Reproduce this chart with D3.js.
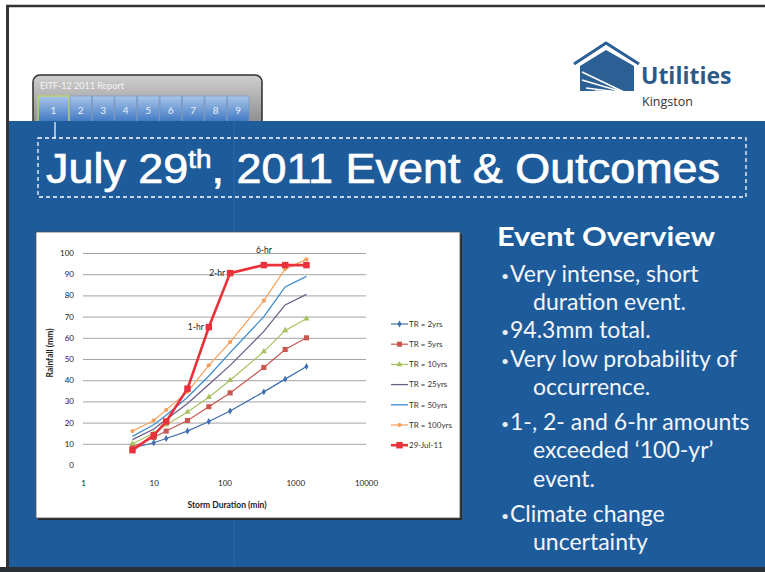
<!DOCTYPE html>
<html>
<head>
<meta charset="utf-8">
<script src="https://cdn.jsdelivr.net/npm/d3@7"></script>
<style>
  body { margin: 0; background: #fff; }
  svg { display: block; }
</style>
</head>
<body>
<div id="slide"></div>
<script>
// storm durations (min) and rainfall depths (mm)
var durations = [5, 10, 15, 30, 60, 120, 360, 720, 1440];
var tr2   = [8, 10.5, 12.5, 16, 20.5, 25.5, 34.5, 40.5, 46.5];
var tr5   = [8.5, 13, 16, 21, 27.5, 34, 46, 54.5, 60];
var tr10  = [10, 15, 19, 25, 32, 40, 53.5, 63.5, 69];
var tr25  = [12, 17, 21.5, 29, 38, 47, 63, 75.5, 80.5];
var tr50  = [13.5, 19, 23.5, 32, 42, 53, 70, 84, 89];
var tr100 = [16, 21, 26, 34.5, 47, 58, 77.5, 92.5, 97];
var jul29 = [7, 14, 20.5, 36, 65, 90.5, 94.3, 94.3, 94.3];

var seriesNames = ["TR = 2yrs", "TR = 5yrs", "TR = 10yrs", "TR = 25yrs", "TR = 50yrs", "TR = 100yrs", "29-Jul-11"];
var yTicks = [0, 10, 20, 30, 40, 50, 60, 70, 80, 90, 100];
var xTicks = [1, 10, 100, 1000, 10000];
var annotations = [["1-hr", 60], ["2-hr", 120], ["6-hr", 360]];
var bullets = [
  ["Very intense, short", "duration event."],
  ["94.3mm total."],
  ["Very low probability of", "occurrence."],
  ["1-, 2- and 6-hr amounts", "exceeded \u2018100-yr\u2019", "event."],
  ["Climate change", "uncertainty"]
];

var W = 765, H = 572;
var blue = "#1e5b9b";

var svg = d3.select("#slide").append("svg")
  .attr("width", W)
  .attr("height", H);

var defs = svg.append("defs");
var g1 = defs.append("linearGradient").attr("id", "navbg").attr("x1", 0).attr("y1", 0).attr("x2", 0).attr("y2", 1);
g1.append("stop").attr("offset", "0%").attr("stop-color", "#cfcfcf");
g1.append("stop").attr("offset", "100%").attr("stop-color", "#7d7d7d");
var g2 = defs.append("linearGradient").attr("id", "btnbg").attr("x1", 0).attr("y1", 0).attr("x2", 0).attr("y2", 1);
g2.append("stop").attr("offset", "0%").attr("stop-color", "#a9c6ea");
g2.append("stop").attr("offset", "100%").attr("stop-color", "#3f78c2");

// page + scan border
svg.append("rect").attr("width", W).attr("height", H).attr("fill", "#fff");
svg.append("line").attr("x1", 6).attr("x2", W).attr("y1", 6).attr("y2", 6)
  .attr("stroke", "#333").attr("stroke-width", 2.5);
svg.append("line").attr("x1", 7.5).attr("x2", 7.5).attr("y1", 5).attr("y2", H)
  .attr("stroke", "#333").attr("stroke-width", 3);

// navigation box
svg.append("rect").attr("x", 33).attr("y", 75).attr("width", 229).attr("height", 60)
  .attr("rx", 7).attr("fill", "url(#navbg)").attr("stroke", "#2e2e2e").attr("stroke-width", 1.5);
svg.append("text").attr("x", 40).attr("y", 89)
  .attr("font-family", "Lato, sans-serif").attr("font-size", 9).attr("fill", "#f4f4f4")
  .text("EITF-12 2011 Report");
var btnX = [38, 70, 92.5, 115, 137.5, 160, 182.5, 205, 227.5];
btnX.forEach(function (bx, i) {
  var bw = i === 0 ? 31 : 21.5;
  svg.append("rect").attr("x", bx).attr("y", 96).attr("width", bw).attr("height", 26)
    .attr("fill", "url(#btnbg)")
    .attr("stroke", i === 0 ? "#b9d46b" : "#6d95c9").attr("stroke-width", i === 0 ? 1.5 : 0.6);
  svg.append("text").attr("x", bx + bw / 2).attr("y", 114)
    .attr("text-anchor", "middle").attr("font-family", "Lato, sans-serif")
    .attr("font-size", 10).attr("fill", "#e8f0fa").text(i + 1);
});

// logo
var logo = svg.append("g");
logo.append("path").attr("d", "M574,64 L606,43 L639,64")
  .attr("fill", "none").attr("stroke", "#2c5f93").attr("stroke-width", 3);
logo.append("path").attr("d", "M580,66 L606,50 L634,66 L634,91 L580,91 Z").attr("fill", "#2c5f93");
[[582, 72], [582, 80], [586, 88], [595, 91], [606, 91], [614, 91]].forEach(function (p) {
  logo.append("line").attr("x1", 626).attr("y1", 93).attr("x2", p[0]).attr("y2", p[1])
    .attr("stroke", "#fff").attr("stroke-width", 1.6);
});
logo.append("text").attr("x", 641).attr("y", 84)
  .attr("font-family", "'Open Sans', sans-serif").attr("font-weight", "bold")
  .attr("font-size", 23).attr("fill", "#2d5b89").text("Utilities");
logo.append("text").attr("x", 642).attr("y", 106)
  .attr("font-family", "'Open Sans', sans-serif")
  .attr("font-size", 12.5).attr("fill", "#333").text("Kingston");

// blue panel
svg.append("rect").attr("x", 9).attr("y", 121).attr("width", W - 9).attr("height", 447).attr("fill", blue);
svg.append("line").attr("x1", 234).attr("x2", 234).attr("y1", 121).attr("y2", 567)
  .attr("stroke", "#3a70ab").attr("stroke-width", 1).attr("opacity", 0.6);
svg.append("rect").attr("x", 0).attr("y", 567).attr("width", W).attr("height", 5).attr("fill", "#2b2f36");
svg.append("line").attr("x1", 55).attr("x2", 55).attr("y1", 122).attr("y2", 138)
  .attr("stroke", "#fff").attr("stroke-width", 1.2);

// title
svg.append("rect").attr("x", 38).attr("y", 138).attr("width", 708).attr("height", 59)
  .attr("fill", "none").attr("stroke", "#fff").attr("stroke-width", 1.3).attr("stroke-dasharray", "4,3");
var title = svg.append("text").attr("x", 46).attr("y", 183)
  .attr("font-family", "'Liberation Sans', Arial, sans-serif")
  .attr("font-size", 42).attr("fill", "#fff")
  .attr("stroke", "#fff").attr("stroke-width", 0.7)
  .attr("textLength", 674).attr("lengthAdjust", "spacingAndGlyphs");
title.append("tspan").text("July 29");
title.append("tspan").attr("font-size", 26).attr("dy", -15).text("th");
title.append("tspan").attr("dy", 15).text(", 2011 Event & Outcomes");

// right text
svg.append("text").attr("x", 497).attr("y", 246)
  .attr("font-family", "Lato, sans-serif").attr("font-weight", "bold")
  .attr("font-size", 27).attr("fill", "#fff")
  .attr("textLength", 218).attr("lengthAdjust", "spacingAndGlyphs")
  .text("Event Overview");
var lineY = [282, 310, 338, 367, 395, 430, 458, 487, 522, 550];
var li = 0;
bullets.forEach(function (b) {
  b.forEach(function (t, j) {
    var yy = lineY[li++];
    if (j === 0) {
      svg.append("text").attr("x", 501).attr("y", yy - 1)
        .attr("font-family", "Lato, sans-serif").attr("font-size", 14).attr("fill", "#e6eef8").text("\u2022");
    }
    svg.append("text").attr("x", j === 0 ? 510 : 533).attr("y", yy)
      .attr("font-family", "Lato, sans-serif").attr("font-size", 23).attr("fill", "#f2f6fb").text(t);
  });
});

// chart box
svg.append("rect").attr("x", 38).attr("y", 234).attr("width", 424).attr("height", 286)
  .attr("fill", "#2a2a2a");
svg.append("rect").attr("x", 36).attr("y", 232).attr("width", 424).attr("height", 286)
  .attr("fill", "#fff").attr("stroke", "#555").attr("stroke-width", 0.8);

var chart = svg.append("g");
var x = d3.scaleLog().domain([1, 10000]).range([83, 366]);
var y = d3.scaleLinear().domain([0, 100]).range([465, 253]);

// gridlines
chart.append("g")
  .attr("transform", "translate(83,0)")
  .call(d3.axisLeft(y).tickValues(yTicks.slice(1)).tickSize(-283).tickFormat(""))
  .call(function (g) { g.select(".domain").remove(); })
  .selectAll("line").attr("stroke", "#a3a3a3").attr("stroke-width", 1);

chart.append("g")
  .attr("transform", "translate(83,0)")
  .call(d3.axisLeft(y).tickValues(yTicks).tickSize(0).tickPadding(9))
  .call(function (g) { g.select(".domain").remove(); })
  .selectAll("text").attr("font-family", "Lato, sans-serif").attr("font-size", 8).attr("fill", "#222");

chart.append("g")
  .attr("transform", "translate(0,465)")
  .call(d3.axisBottom(x).tickValues(xTicks).tickSize(0).tickPadding(15).tickFormat(d3.format("d")))
  .call(function (g) { g.select(".domain").remove(); })
  .selectAll("text").attr("font-family", "Lato, sans-serif").attr("font-size", 8).attr("fill", "#222");

chart.append("text").attr("x", 227).attr("y", 508).attr("text-anchor", "middle")
  .attr("font-family", "Lato, sans-serif").attr("font-weight", "bold").attr("font-size", 8.5)
  .attr("fill", "#222").text("Storm Duration (min)");
chart.append("text").attr("transform", "translate(53,353) rotate(-90)").attr("text-anchor", "middle")
  .attr("font-family", "Lato, sans-serif").attr("font-weight", "bold").attr("font-size", 8.5)
  .attr("fill", "#222").text("Rainfall (mm)");

var series = [
  { name: seriesNames[0], values: tr2,   color: "#3f6fae", width: 1.2, marker: "diamond", size: 14 },
  { name: seriesNames[1], values: tr5,   color: "#c8574f", width: 1.2, marker: "square",  size: 26 },
  { name: seriesNames[2], values: tr10,  color: "#a7c15e", width: 1.2, marker: "triangle", size: 16 },
  { name: seriesNames[3], values: tr25,  color: "#6c5d86", width: 1.3, marker: null },
  { name: seriesNames[4], values: tr50,  color: "#3f8ccc", width: 1.3, marker: null },
  { name: seriesNames[5], values: tr100, color: "#f5a05a", width: 1.2, marker: "circle",  size: 14 },
  { name: seriesNames[6], values: jul29, color: "#e8313a", width: 2.6, marker: "square",  size: 42 }
];
var symbols = { diamond: d3.symbolDiamond, square: d3.symbolSquare, triangle: d3.symbolTriangle, circle: d3.symbolCircle };

var line = d3.line()
  .x(function (d, i) { return x(durations[i]); })
  .y(function (d) { return y(d); });

series.forEach(function (s) {
  chart.append("path")
    .datum(s.values)
    .attr("fill", "none")
    .attr("stroke", s.color)
    .attr("stroke-width", s.width)
    .attr("d", line);
  if (s.marker) {
    chart.selectAll(null)
      .data(s.values)
      .enter().append("path")
      .attr("transform", function (d, i) { return "translate(" + x(durations[i]) + "," + y(d) + ")"; })
      .attr("d", d3.symbol().type(symbols[s.marker]).size(s.size))
      .attr("fill", s.color);
  }
});

// event annotations
annotations.forEach(function (a) {
  var i = durations.indexOf(a[1]);
  var above = a[1] === 360;
  chart.append("text")
    .attr("x", above ? x(a[1]) : x(a[1]) - 5)
    .attr("y", above ? y(jul29[i]) - 12 : y(jul29[i]) + 3)
    .attr("text-anchor", above ? "middle" : "end")
    .attr("font-family", "Lato, sans-serif").attr("font-size", 8.5).attr("fill", "#222")
    .text(a[0]);
});

// legend
var legend = chart.append("g").attr("transform", "translate(391,324)");
series.forEach(function (s, i) {
  var row = legend.append("g").attr("transform", "translate(0," + (i * 20.2) + ")");
  row.append("line").attr("x1", 0).attr("x2", 17)
    .attr("stroke", s.color).attr("stroke-width", s.width);
  if (s.marker) {
    row.append("path").attr("transform", "translate(8.5,0)")
      .attr("d", d3.symbol().type(symbols[s.marker]).size(s.size))
      .attr("fill", s.color);
  }
  row.append("text").attr("x", 18).attr("y", 2.8)
    .attr("font-family", "Lato, sans-serif").attr("font-size", 8).attr("fill", "#333")
    .text(s.name);
});
</script>
</body>
</html>
